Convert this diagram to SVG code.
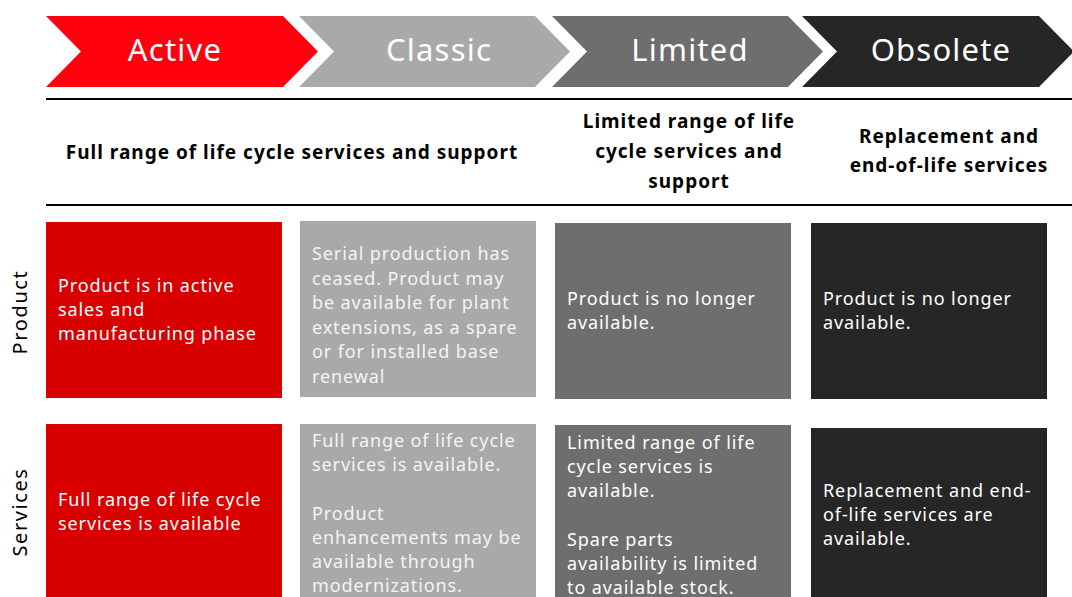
<svg xmlns="http://www.w3.org/2000/svg" width="1072" height="597" viewBox="0 0 1072 597">
<style>
.chev{font-family:"Noto Sans",sans-serif;font-size:31px;fill:#fff;text-anchor:middle;letter-spacing:1.2px}
.hdr{font-family:"Noto Sans",sans-serif;font-size:19px;font-weight:bold;fill:#000;text-anchor:middle;letter-spacing:1px}
.side{font-family:"Noto Sans",sans-serif;font-size:20px;fill:#000;text-anchor:middle;letter-spacing:1.6px}
.bt{font-family:"Noto Sans",sans-serif;font-size:18px;fill:#fff;letter-spacing:0.9px}
.bt2{font-family:"Noto Sans",sans-serif;font-size:18px;fill:#f4f4f4;letter-spacing:0.9px}
.rule{stroke:#000;stroke-width:2}
</style>
<rect width="1072" height="597" fill="#fff"/>
<g id="chevron-active">
<polygon points="46,16 283,16 318,51.5 283,87 46,87 81,51.5" fill="#FF000F"/>
<text class="chev" x="175" y="61">Active</text>
</g>
<g id="chevron-classic">
<polygon points="299,16 535,16 570,51.5 535,87 299,87 334,51.5" fill="#A9A9A9"/>
<text class="chev" x="439" y="61" fill="#f4f4f4">Classic</text>
</g>
<g id="chevron-limited">
<polygon points="552,16 788,16 823,51.5 788,87 552,87 587,51.5" fill="#6E6E6E"/>
<text class="chev" x="690" y="61">Limited</text>
</g>
<g id="chevron-obsolete">
<polygon points="802,16 1039,16 1074,51.5 1039,87 802,87 837,51.5" fill="#262626"/>
<text class="chev" x="941" y="61">Obsolete</text>
</g>
<g id="rules">
<line class="rule" x1="46" y1="99" x2="1072" y2="99"/>
<line class="rule" x1="46" y1="205" x2="1072" y2="205"/>
</g>
<g id="header-full">
<text class="hdr" x="292" y="159">Full range of life cycle services and support</text>
</g>
<g id="header-limited">
<text class="hdr" x="689" y="128">Limited range of life</text>
<text class="hdr" x="689" y="158">cycle services and</text>
<text class="hdr" x="689" y="188">support</text>
</g>
<g id="header-replacement">
<text class="hdr" x="949" y="143">Replacement and</text>
<text class="hdr" x="949" y="172">end-of-life services</text>
</g>
<g id="label-product">
<text class="side" transform="translate(27,312) rotate(-90)">Product</text>
</g>
<g id="label-services">
<text class="side" transform="translate(27,512) rotate(-90)">Services</text>
</g>
<g id="product-active">
<rect x="46" y="222" width="236" height="176" fill="#D90000"/>
<text class="bt" x="58" y="292">Product is in active</text>
<text class="bt" x="58" y="316">sales and</text>
<text class="bt" x="58" y="340">manufacturing phase</text>
</g>
<g id="product-classic">
<rect x="300" y="221" width="236" height="176" fill="#A9A9A9"/>
<text class="bt2" x="312" y="260">Serial production has</text>
<text class="bt2" x="312" y="284.5">ceased. Product may</text>
<text class="bt2" x="312" y="309">be available for plant</text>
<text class="bt2" x="312" y="333.5">extensions, as a spare</text>
<text class="bt2" x="312" y="358">or for installed base</text>
<text class="bt2" x="312" y="382.5">renewal</text>
</g>
<g id="product-limited">
<rect x="555" y="223" width="236" height="176" fill="#6E6E6E"/>
<text class="bt" x="567" y="305">Product is no longer</text>
<text class="bt" x="567" y="329">available.</text>
</g>
<g id="product-obsolete">
<rect x="811" y="223" width="236" height="176" fill="#262626"/>
<text class="bt" x="823" y="305">Product is no longer</text>
<text class="bt" x="823" y="329">available.</text>
</g>
<g id="services-active">
<rect x="46" y="424" width="236" height="173" fill="#D90000"/>
<text class="bt" x="58" y="506">Full range of life cycle</text>
<text class="bt" x="58" y="530">services is available</text>
</g>
<g id="services-classic">
<rect x="300" y="424" width="236" height="173" fill="#A9A9A9"/>
<text class="bt2" x="312" y="447">Full range of life cycle</text>
<text class="bt2" x="312" y="471">services is available.</text>
<text class="bt2" x="312" y="520">Product</text>
<text class="bt2" x="312" y="544">enhancements may be</text>
<text class="bt2" x="312" y="568">available through</text>
<text class="bt2" x="312" y="592">modernizations.</text>
</g>
<g id="services-limited">
<rect x="555" y="425" width="236" height="172" fill="#6E6E6E"/>
<text class="bt" x="567" y="449">Limited range of life</text>
<text class="bt" x="567" y="473">cycle services is</text>
<text class="bt" x="567" y="497">available.</text>
<text class="bt" x="567" y="546">Spare parts</text>
<text class="bt" x="567" y="570">availability is limited</text>
<text class="bt" x="567" y="594">to available stock.</text>
</g>
<g id="services-obsolete">
<rect x="811" y="428" width="236" height="169" fill="#262626"/>
<text class="bt" x="823" y="497">Replacement and end-</text>
<text class="bt" x="823" y="521">of-life services are</text>
<text class="bt" x="823" y="545">available.</text>
</g>
</svg>
